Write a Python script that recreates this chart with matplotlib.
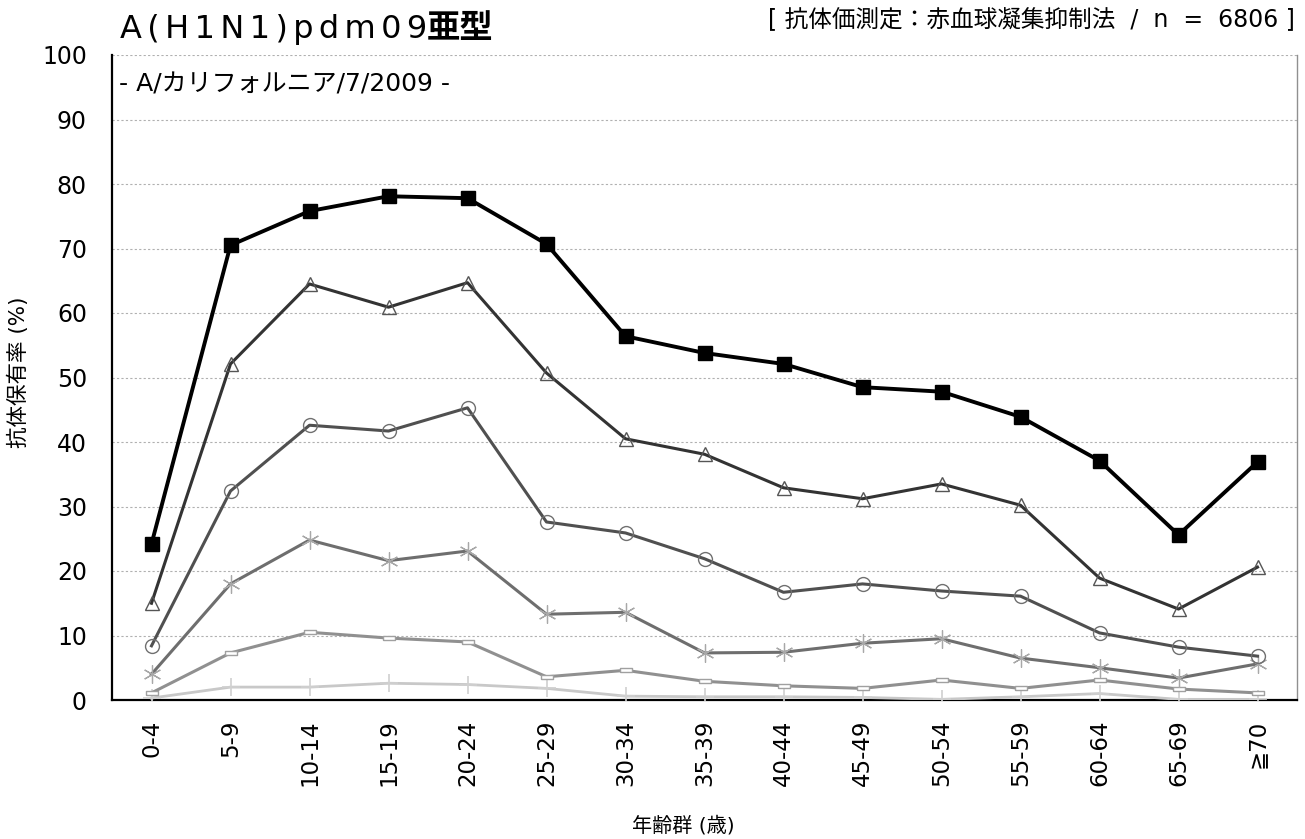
import matplotlib
matplotlib.use("Agg")
import matplotlib.pyplot as plt
import numpy as np

plt.rcParams['font.family'] = ['DejaVu Sans', 'Noto Sans CJK JP']

# 年齢群
ages = ['0-4', '5-9', '10-14', '15-19', '20-24', '25-29', '30-34', '35-39',
        '40-44', '45-49', '50-54', '55-59', '60-64', '65-69', '≧70']

# 抗体保有率 (%) 各系列
s_square = [24.2, 70.5, 75.8, 78.1, 77.8, 70.7, 56.4, 53.8, 52.1, 48.5, 47.8, 43.9, 37.1, 25.6, 36.9]
s_tri = [15.0, 52.1, 64.5, 60.9, 64.7, 50.7, 40.5, 38.1, 32.9, 31.2, 33.5, 30.2, 18.9, 14.1, 20.6]
s_circ = [8.4, 32.4, 42.6, 41.7, 45.3, 27.6, 25.9, 21.9, 16.7, 18.0, 16.9, 16.1, 10.4, 8.2, 6.8]
s_star = [4.0, 18.0, 24.8, 21.6, 23.1, 13.3, 13.6, 7.3, 7.4, 8.8, 9.5, 6.5, 5.0, 3.4, 5.6]
s_rect = [1.1, 7.3, 10.5, 9.6, 9.0, 3.6, 4.6, 2.9, 2.2, 1.8, 3.1, 1.8, 3.1, 1.7, 1.1]
s_plus = [0.3, 2.0, 2.0, 2.6, 2.4, 1.8, 0.6, 0.5, 0.5, 0.4, 0.1, 0.5, 1.0, 0.1, 0.1]

x = np.arange(len(ages))

fig = plt.figure(figsize=(13.05, 8.39), dpi=100)
ax = fig.add_axes([112/1305, 1-700/839, (1297-112)/1305, (700-55)/839])

rect_marker = [(-1, -0.3), (1, -0.3), (1, 0.3), (-1, 0.3), (-1, -0.3)]

# 下から順に描画
ax.plot(x, s_plus, color='#c8c8c8', lw=2, marker='+', ms=13, mec='#d0d0d0', mew=1.2, zorder=3)
ax.plot(x, s_rect, color='#909090', lw=2.2, marker=rect_marker, ms=9, mfc='white', mec='#a0a0a0', mew=1, zorder=4)
ax.plot(x, s_star, color='#6e6e6e', lw=2.2, marker=(6, 2, 0), ms=13, mec='#a8a8a8', mew=0.9, zorder=5)
ax.plot(x, s_circ, color='#505050', lw=2.2, marker='o', ms=10, mfc='none', mec='#707070', mew=1, zorder=6)
ax.plot(x, s_tri, color='#333333', lw=2.2, marker='^', ms=10, mfc='none', mec='#555555', mew=1, zorder=7)
ax.plot(x, s_square, color='black', lw=2.8, marker='s', ms=10, mfc='black', mec='black', zorder=8)

ax.set_xlim(-0.5, len(ages) - 0.5)
ax.set_ylim(0, 100)
ax.set_yticks(np.arange(0, 101, 10))
ax.set_xticks(x)
ax.set_xticklabels(ages, rotation=90, fontsize=16.5)
ax.tick_params(axis='y', labelsize=17, length=0, pad=18)
ax.tick_params(axis='x', length=0, pad=14)

ax.yaxis.grid(True, linestyle=(0, (2, 2)), color='#b0b0b0', lw=0.8)
ax.set_axisbelow(True)
ax.spines['top'].set_visible(False)
ax.spines['right'].set_color('#909090')
ax.spines['right'].set_linewidth(1)
ax.spines['left'].set_linewidth(1.6)
ax.spines['bottom'].set_linewidth(1.6)

fig.text(18/1305, 1-372/839, '抗体保有率 (%)', fontsize=15.5, rotation=90,
         ha='center', va='center')
fig.text(683/1305, 1-826/839, '年齢群 (歳)', fontsize=14.5, ha='center', va='center')

ax.text(0.006, 0.955, '- A/カリフォルニア/7/2009 -', transform=ax.transAxes,
        fontsize=18, va='center', ha='left')

# タイトル
t1 = fig.text(120/1305, 1-38/839, '\u2006'.join('A(H1N1)pdm09'), fontsize=23,
              family=['DejaVu Sans'], va='baseline', ha='left')
ax.annotate('亜型', xy=(1, 0), xycoords=t1, va='bottom', ha='left',
            fontsize=24, fontweight='bold', family=['Noto Sans CJK JP'],
            annotation_clip=False)

fig.text(1295/1305, 1-20/839, '[ 抗体価測定：赤血球凝集抑制法  /  n  =  6806 ]',
         fontsize=17, ha='right', va='center',
         family=['DejaVu Sans', 'Noto Sans CJK JP'])

fig.savefig('out.png', dpi=100)
